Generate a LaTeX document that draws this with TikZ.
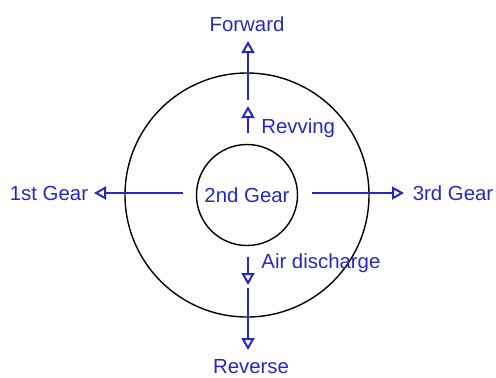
\documentclass[tikz,border=0pt]{standalone}
\usepackage{fontspec}
\setmainfont{Liberation Sans}
\usepackage{xcolor}
\usepackage{tikz}
\usetikzlibrary{positioning, arrows.meta}
\definecolor{gearblue}{RGB}{40,40,200}

\begin{document}
\begin{tikzpicture}[x=0.5pt, y=-0.5pt, >={Triangle[open, length=6pt, width=6.5pt, fill=white]}]
    \tikzstyle{ring} = [draw, circle, line width=0.7pt, inner sep=0pt]
    \tikzstyle{lbl} = [text=gearblue, inner sep=1pt, font=\fontsize{10.2}{12}\selectfont]
    \tikzstyle{arr} = [->, draw=gearblue, line width=1pt]

    \useasboundingbox (0,0) rectangle (496,377);

    % Cerchi
    \node[ring, minimum size=244pt/2] (outer) at (247,195) {};
    \node[ring, minimum size=101pt/2] (inner) at (247,195) {};
    \node[lbl] (second) at (247,195) {2nd Gear};

    % Etichette
    \node[lbl] (fwd) at (247,24) {Forward};
    \node[lbl] (rev) at (251,367) {Reverse};
    \node[lbl] (first) at (49,193) {1st Gear};
    \node[lbl] (third) at (453,193) {3rd Gear};
    \node[lbl, anchor=west] (revv) at (259,128) {Revving};
    \node[lbl, anchor=west] (air) at (259,263) {Air discharge};

    % Punti delle frecce
    \coordinate (u1) at (248,133);
    \coordinate (u2) at (248,106);
    \coordinate (u3) at (248,100);
    \coordinate (u4) at (248,41);
    \coordinate (d1) at (248,257);
    \coordinate (d2) at (248,285);
    \coordinate (d3) at (248,288);
    \coordinate (d4) at (248,350);
    \coordinate (l1) at (183,193);
    \coordinate (l2) at (94,193);
    \coordinate (r1) at (312,193);
    \coordinate (r2) at (404,193);

    % Frecce
    \draw[arr] (u1) -- (u2);
    \draw[arr] (u3) -- (u4);
    \draw[arr] (d1) -- (d2);
    \draw[arr] (d3) -- (d4);
    \draw[arr] (l1) -- (l2);
    \draw[arr] (r1) -- (r2);
\end{tikzpicture}
\end{document}
